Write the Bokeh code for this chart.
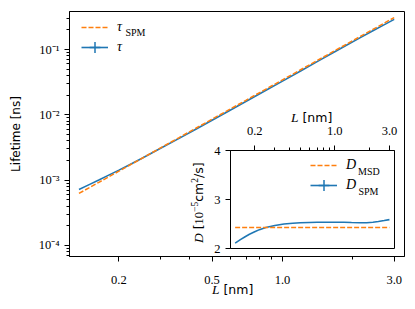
import math
from bokeh.plotting import figure
from bokeh.models import (FixedTicker, CustomJSTickFormatter, Legend, LegendItem,
                          Label, Range1d, Column, Div)
from bokeh.embed import file_html
from bokeh.resources import INLINE

# ---------------- data ----------------
L_nm = [0.135, 0.15, 0.165, 0.18, 0.2, 0.22, 0.25, 0.3, 0.36, 0.43, 0.5, 0.6,
        0.7, 0.85, 1.0, 1.2, 1.4, 1.65, 1.9, 2.15, 2.4, 2.7, 3.0]
tau = [0.00072, 0.00086, 0.00101, 0.00118, 0.00142, 0.00169, 0.00214, 0.00304,
       0.00432, 0.00613, 0.00825, 0.01185, 0.01611, 0.02373, 0.03285, 0.04734,
       0.06456, 0.08978, 0.11905, 0.15196, 0.18824, 0.23638, 0.28958]
tau_spm = [0.000625, 0.000772, 0.000934, 0.00111, 0.00137, 0.00166, 0.00214,
           0.00309, 0.00444, 0.00634, 0.00857, 0.01235, 0.0168, 0.02478,
           0.03429, 0.04938, 0.06722, 0.09336, 0.1238, 0.15852, 0.19753, 0.25,
           0.30864]
D_spm = [2.11, 2.18, 2.24, 2.29, 2.34, 2.385, 2.43, 2.47, 2.50, 2.515, 2.525,
         2.532, 2.535, 2.537, 2.537, 2.535, 2.53, 2.527, 2.527, 2.535, 2.55,
         2.57, 2.59]
L_msd = [0.135, 3.0]
D_msd = [2.43, 2.43]

main_x_ticks = [0.2, 0.5, 1.0, 3.0]
x_minor_ticks = [0.3, 0.4, 0.5, 0.6, 0.7, 0.8, 0.9, 2.0]
main_y_ticks = [1e-4, 1e-3, 1e-2, 1e-1]
main_y_minor = [m * 10.0 ** e for e in range(-5, 0) for m in range(2, 10)]
inset_x_ticks = [0.2, 1.0, 3.0]
inset_y_ticks = [2, 3, 4]

BLUE = "#1f77b4"
ORANGE = "#ff7f0e"
SERIF = "Liberation Serif"
SANS = "DejaVu Sans"

SUP_CODE = """
const sup = {"-":"\u207b","0":"\u2070","1":"\u00b9","2":"\u00b2","3":"\u00b3","4":"\u2074",
             "5":"\u2075","6":"\u2076","7":"\u2077","8":"\u2078","9":"\u2079"};
const e = Math.round(Math.log10(tick));
return "10" + String(e).split("").map(c => sup[c]).join("");
"""


def style_axis(ax, standoff):
    ax.axis_line_color = "black"
    ax.axis_line_width = 1
    ax.major_tick_line_color = "black"
    ax.minor_tick_line_color = "black"
    ax.major_tick_out = 5
    ax.major_tick_in = 0
    ax.minor_tick_out = 3
    ax.minor_tick_in = 0
    ax.major_label_text_font = SERIF
    ax.major_label_text_font_size = "12.5px"
    ax.major_label_text_color = "black"
    ax.major_label_standoff = standoff


def one_legend(label, renderers, loc):
    return Legend(items=[LegendItem(label=label, renderers=renderers)],
                  location=loc, glyph_width=27, glyph_height=28,
                  spacing=0, padding=0, margin=0, label_standoff=9,
                  border_line_alpha=0, background_fill_alpha=0,
                  label_text_font=SERIF, label_text_font_style="italic",
                  label_text_font_size="14px", label_text_color="black")


def sub_label(x, y, text):
    return Label(x=x, y=y, x_units="screen", y_units="screen", text=text,
                 text_font=SERIF, text_font_size="10px",
                 text_baseline="alphabetic", text_align="left",
                 text_color="black")


def html_label(html, left, top, width, height, rotate=False):
    st = {"position": "absolute", "left": f"{left}px", "top": f"{top}px",
          "white-space": "nowrap", "overflow": "visible"}
    if rotate:
        st["transform"] = "rotate(-90deg)"
        st["transform-origin"] = "0 0"
    inner = ("<div style=\"white-space:nowrap;line-height:16px;"
             "font-family:'DejaVu Sans';font-size:12.5px;color:#000;margin:0;padding:0\">"
             + html + "</div>")
    return Div(text=inner, width=width, height=height, margin=0, styles=st)


ITAL = "<span style=\"font-family:'Liberation Serif';font-style:italic;font-size:13.5px\">{}</span>"
SERIF_SPAN = "<span style=\"font-family:'Liberation Serif';font-size:12.5px\">{}</span>"
SUP_SPAN = ("<span style=\"font-family:'Liberation Serif';font-size:9.5px;"
            "position:relative;top:-5px\">{}</span>")

# ---------------- main plot ----------------
p = figure(width=412, height=306, x_axis_type="log", y_axis_type="log",
           x_range=Range1d(0.123, 3.32), y_range=Range1d(6.76e-5, 0.382),
           output_backend="svg", toolbar_location=None,
           min_border_left=69, min_border_right=8, min_border_top=11,
           min_border_bottom=50)
p.grid.visible = False
p.outline_line_color = "black"
p.outline_line_width = 1
p.background_fill_color = "white"
p.border_fill_color = "white"

style_axis(p.xaxis[0], 14)
style_axis(p.yaxis[0], 5)
p.xaxis.ticker = FixedTicker(ticks=main_x_ticks, minor_ticks=x_minor_ticks)
p.xaxis.formatter = CustomJSTickFormatter(code="return tick.toFixed(1);")
p.yaxis.ticker = FixedTicker(ticks=main_y_ticks, minor_ticks=main_y_minor)
p.yaxis.formatter = CustomJSTickFormatter(code=SUP_CODE)
p.yaxis.axis_label = "Lifetime [ns]"
p.yaxis.axis_label_text_font = SANS
p.yaxis.axis_label_text_font_size = "12px"
p.yaxis.axis_label_text_font_style = "normal"
p.yaxis.axis_label_text_color = "black"
p.yaxis.axis_label_standoff = 13

r_tau = p.line(L_nm, tau, line_color=BLUE, line_width=1.6)
r_tau_pts = p.scatter(L_nm, tau, marker="cross", size=0, line_color=BLUE,
                      line_width=1.5)
r_spm = p.line(L_nm, tau_spm, line_color=ORANGE, line_width=1.5, line_dash="5 2")

p.add_layout(one_legend("\u03c4", [r_spm], (12, 215)))
p.add_layout(one_legend("\u03c4", [r_tau, r_tau_pts], (12, 195)))
p.add_layout(sub_label(56, 224.3, "SPM"))

# ---------------- inset (separate root, absolutely placed) ----------------
q = figure(width=208, height=156, x_axis_type="log",
           x_range=Range1d(0.123, 3.32), y_range=Range1d(2, 4),
           x_axis_location="above", output_backend="svg", toolbar_location=None,
           min_border_left=40, min_border_right=4, min_border_top=46,
           min_border_bottom=12)
q.grid.visible = False
q.outline_line_color = "black"
q.outline_line_width = 1
q.background_fill_color = "white"
q.border_fill_alpha = 0

style_axis(q.xaxis[0], 11)
style_axis(q.yaxis[0], 5)
q.xaxis.ticker = FixedTicker(ticks=inset_x_ticks, minor_ticks=x_minor_ticks)
q.xaxis.formatter = CustomJSTickFormatter(code="return tick.toFixed(1);")
q.yaxis.ticker = FixedTicker(ticks=inset_y_ticks, minor_ticks=[])
q.yaxis.formatter = CustomJSTickFormatter(code="return tick.toFixed(0);")

s_spm = q.line(L_nm, D_spm, line_color=BLUE, line_width=1.6)
s_spm_pts = q.scatter(L_nm, D_spm, marker="cross", size=0, line_color=BLUE,
                      line_width=1.5)
s_msd = q.line(L_msd, D_msd, line_color=ORANGE, line_width=1.5, line_dash="5 2")

q.add_layout(one_legend("D", [s_msd], (80, 69)))
q.add_layout(one_legend("D", [s_spm, s_spm_pts], (80, 49)))
q.add_layout(sub_label(127.5, 77.3, "MSD"))
q.add_layout(sub_label(128, 57.3, "SPM"))

q.styles = {"position": "absolute", "left": "190px", "top": "104px"}

# ---------------- axis labels with mixed fonts ----------------
main_xlabel = html_label(ITAL.format("L") + " [nm]", 212, 282, 60, 16)
inset_xlabel = html_label(ITAL.format("L") + " [nm]", 291, 110, 60, 16)
inset_ylabel = html_label(
    ITAL.format("D") + " [" + SERIF_SPAN.format("10") + SUP_SPAN.format("\u22125")
    + "cm" + SUP_SPAN.format("2") + "/s]",
    190.5, 243, 100, 16, rotate=True)

labels = Column(children=[main_xlabel, inset_xlabel, inset_ylabel], width=0, height=0,
                styles={"position": "absolute", "left": "0px", "top": "0px"})

open("out.html", "w").write(file_html([p, q, labels], INLINE))
